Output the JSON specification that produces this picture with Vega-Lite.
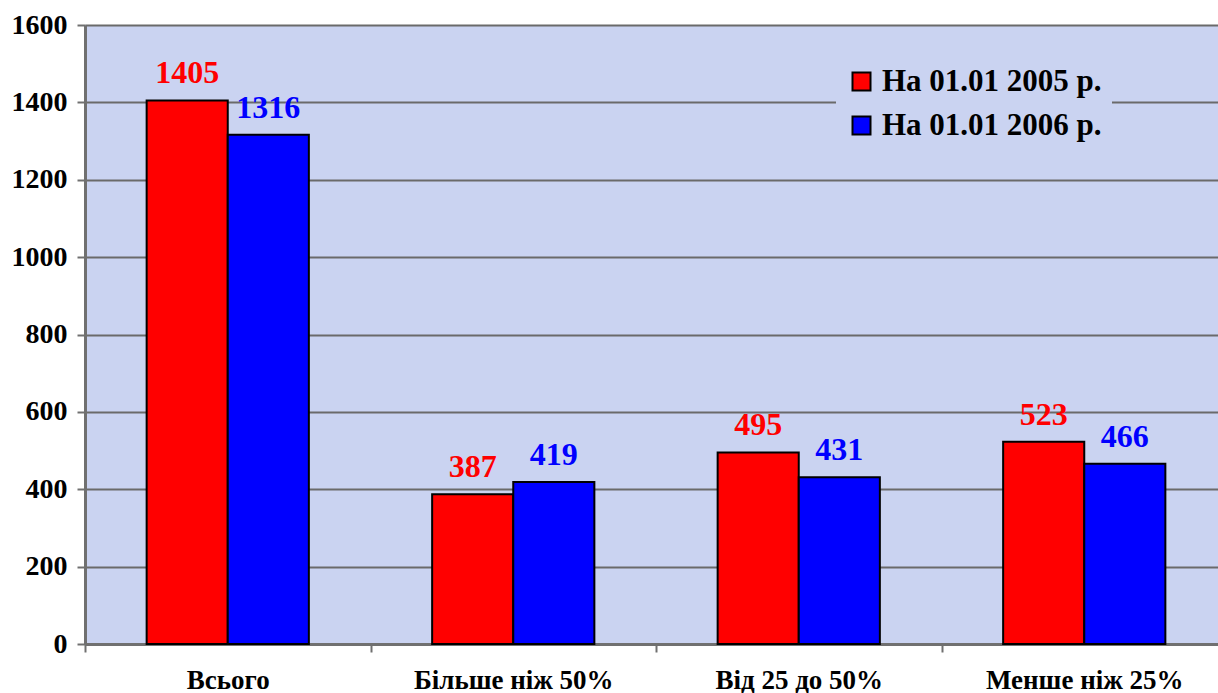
{
  "$schema": "https://vega.github.io/schema/vega-lite/v6.json",
  "autosize": {"type": "none"},
  "width": 1133,
  "height": 619,
  "padding": {"left": 85, "top": 25, "right": 0, "bottom": 49},
  "background": "white",
  "config": {
    "view": {"fill": "#cad3f1", "stroke": null},
    "font": "Liberation Serif"
  },
  "data": {
    "values": [
      {"category": "Всього", "series": "На 01.01 2005 р.", "value": 1405},
      {"category": "Всього", "series": "На 01.01 2006 р.", "value": 1316},
      {"category": "Більше ніж 50%", "series": "На 01.01 2005 р.", "value": 387},
      {"category": "Більше ніж 50%", "series": "На 01.01 2006 р.", "value": 419},
      {"category": "Від 25 до 50%", "series": "На 01.01 2005 р.", "value": 495},
      {"category": "Від 25 до 50%", "series": "На 01.01 2006 р.", "value": 431},
      {"category": "Менше ніж 25%", "series": "На 01.01 2005 р.", "value": 523},
      {"category": "Менше ніж 25%", "series": "На 01.01 2006 р.", "value": 466}
    ]
  },
  "encoding": {
    "x": {
      "field": "category", "type": "nominal",
      "sort": ["Всього", "Більше ніж 50%", "Від 25 до 50%", "Менше ніж 25%"],
      "scale": {"paddingInner": 0, "paddingOuter": 0, "range": [0, 1142]},
      "axis": {
        "title": null, "labelAngle": 0, "labelFontSize": 27, "labelFontWeight": "bold",
        "labelColor": "black", "labelPadding": 15, "tickSize": 8, "tickColor": "#707070",
        "tickWidth": 2, "tickBand": "extent", "domainColor": "#707070", "domainWidth": 3, "grid": false,
        "labelFont": "Liberation Serif", "labelLimit": 400
      }
    },
    "xOffset": {
      "field": "series", "type": "nominal",
      "scale": {"paddingInner": 0, "paddingOuter": 0.76}
    },
    "y": {
      "field": "value", "type": "quantitative",
      "scale": {"domain": [0, 1600], "nice": false},
      "axis": {
        "title": null, "values": [0, 200, 400, 600, 800, 1000, 1200, 1400, 1600], "format": "d",
        "labelFontSize": 28, "labelFontWeight": "bold", "labelColor": "black",
        "labelPadding": 10, "tickSize": 8, "tickColor": "#707070", "tickWidth": 2,
        "domainColor": "#707070", "domainWidth": 3, "gridColor": "#6a6a6a", "gridWidth": 2,
        "gridOpacity": 1, "labelFont": "Liberation Serif"
      }
    },
    "color": {
      "field": "series", "type": "nominal",
      "scale": {"domain": ["На 01.01 2005 р.", "На 01.01 2006 р."], "range": ["#ff0000", "#0000ff"]},
      "legend": {
        "title": null, "orient": "none", "legendX": 751, "legendY": 31,
        "fillColor": "#cad3f1", "padding": 10, "symbolType": "square", "symbolSize": 324,
        "symbolStrokeColor": "black", "symbolStrokeWidth": 2, "symbolOpacity": 1,
        "labelFontSize": 31, "labelFontWeight": "bold", "labelColor": "black",
        "labelFont": "Liberation Serif", "rowPadding": 12, "labelOffset": 5, "labelLimit": 500
      }
    }
  },
  "layer": [
    {"mark": {"type": "bar", "stroke": "black", "strokeWidth": 2, "opacity": 1}},
    {
      "mark": {"type": "text", "baseline": "alphabetic", "dy": -17, "fontSize": 32, "fontWeight": "bold", "font": "Liberation Serif"},
      "encoding": {"text": {"field": "value", "type": "quantitative"}}
    }
  ]
}
